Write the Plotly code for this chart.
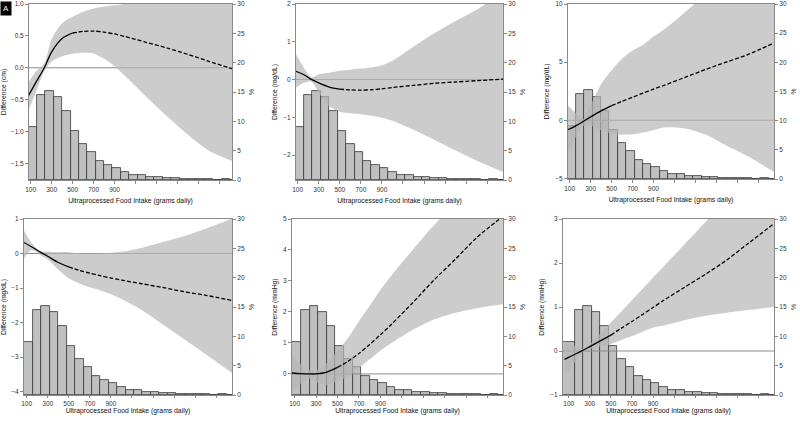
import plotly.graph_objects as go

# ---------------- data ----------------
# common grid of intake values (grams daily) where the curves were read
X_GRID = [60, 150, 230, 300, 400, 500, 600, 700, 800, 900, 1000, 1200, 1400, 1600, 1800, 2050]
SOLID_END = 500  # curve drawn solid up to here, dashed beyond

# histogram of intake distribution (%), bins in grams daily
BIN_EDGES = [0, 160, 240, 320, 400, 480, 560, 640, 720, 800, 880, 960, 1040, 1120,
             1200, 1280, 1360, 1440, 1520, 1600, 1680, 1760, 1840, 1920, 2000, 2080]
HIST_PCT = [9.1, 14.5, 15.2, 14.1, 11.7, 8.4, 6.2, 4.8, 3.3, 2.6, 2.0, 1.4, 0.8, 0.8,
            0.45, 0.45, 0.3, 0.3, 0.17, 0.17, 0.1, 0.1, 0.05, 0.1, 0.05]

# panel 1: waist circumference (cm)
P1_FIT = [-0.49, -0.23, 0.0, 0.25, 0.46, 0.545, 0.57, 0.575, 0.56, 0.53, 0.49, 0.40, 0.31, 0.21, 0.10, -0.03]
P1_LO = [-0.75, -0.38, -0.05, 0.10, 0.18, 0.22, 0.235, 0.225, 0.14, 0.025, -0.13, -0.45, -0.76, -1.05, -1.30, -1.48]
P1_HI = [-0.28, -0.06, 0.07, 0.45, 0.70, 0.80, 0.88, 0.93, 0.96, 0.98, 1.0, 1.04, 1.15, 1.25, 1.35, 1.45]

# panel 2 (mg/dL)
P2_FIT = [0.24, 0.14, 0.005, -0.09, -0.20, -0.255, -0.275, -0.28, -0.27, -0.245, -0.21, -0.155, -0.10, -0.065, -0.03, 0.01]
P2_LO = [-0.27, -0.10, -0.06, -0.34, -0.70, -0.85, -0.89, -0.92, -0.96, -1.01, -1.09, -1.33, -1.6, -1.88, -2.15, -2.45]
P2_HI = [0.8, 0.35, 0.06, 0.14, 0.18, 0.23, 0.26, 0.29, 0.32, 0.38, 0.5, 0.87, 1.23, 1.55, 1.85, 2.3]

# panel 3 (mg/dL)
P3_FIT = [-0.9, -0.52, -0.1, 0.29, 0.81, 1.26, 1.63, 1.98, 2.34, 2.68, 3.0, 3.69, 4.38, 5.02, 5.65, 6.65]
P3_LO = [-3.0, -1.6, -0.5, -0.45, -0.85, -1.15, -1.22, -1.2, -1.05, -0.85, -0.62, -0.7, -1.25, -2.2, -3.1, -4.45]
P3_HI = [1.5, 0.7, 0.1, 1.3, 3.1, 4.3, 5.3, 6.0, 6.5, 7.2, 7.8, 9.3, 10.8, 12.0, 13.0, 14.0]

# panel 4 (mg/dL)
P4_FIT = [0.34, 0.19, 0.04, -0.08, -0.26, -0.39, -0.49, -0.57, -0.64, -0.71, -0.77, -0.88, -0.99, -1.11, -1.21, -1.36]
P4_LO = [-0.2, 0.1, -0.05, -0.17, -0.46, -0.72, -0.87, -0.98, -1.07, -1.18, -1.32, -1.65, -2.07, -2.49, -2.92, -3.46]
P4_HI = [0.75, 0.3, 0.07, 0.05, 0.04, 0.04, 0.01, 0.0, 0.0, 0.02, 0.05, 0.17, 0.34, 0.51, 0.72, 1.01]

# panel 5 (mmHg)
P5_FIT = [0.035, 0.01, 0.0, 0.0, 0.06, 0.21, 0.41, 0.66, 0.95, 1.26, 1.59, 2.29, 3.03, 3.7, 4.4, 5.1]
P5_LO = [-0.75, -0.34, -0.15, -0.27, -0.36, -0.23, -0.08, 0.2, 0.47, 0.75, 0.99, 1.42, 1.76, 1.97, 2.12, 2.25]
P5_HI = [0.7, 0.34, 0.14, 0.11, 0.35, 0.75, 1.17, 1.7, 2.2, 2.71, 3.16, 4.0, 4.8, 5.5, 6.2, 7.0]

# panel 6 (mmHg)
P6_FIT = [-0.19, -0.085, 0.01, 0.10, 0.23, 0.36, 0.52, 0.67, 0.83, 0.99, 1.15, 1.45, 1.75, 2.07, 2.44, 2.9]
P6_LO = [-0.55, -0.28, -0.03, 0.04, 0.10, 0.16, 0.25, 0.34, 0.44, 0.53, 0.58, 0.70, 0.80, 0.87, 0.93, 1.0]
P6_HI = [0.22, 0.13, 0.05, 0.15, 0.40, 0.65, 0.90, 1.16, 1.41, 1.67, 1.92, 2.43, 2.94, 3.4, 3.8, 4.3]

Y_TITLES = ["Difference (cm)", "Difference (mg/dL)", "Difference (mg/dL)",
            "Difference (mg/dL)", "Difference (mmHg)", "Difference (mmHg)"]
Y_RANGES = [[-1.76, 1.0], [-2.66, 2.0], [-5.05, 10.0], [-4.1, 1.0], [-0.68, 5.0], [-1.0, 3.0]]
Y_DTICK = [0.5, 1, 5, 1, 1, 1]
X_RANGES = [[84, 2020], [84, 2050], [84, 2050], [75, 2050], [75, 2045], [46, 2047]]
X_TICKVALS = [100, 300, 500, 700, 900, 1100, 1300, 1500, 1700, 1900]
X_TICKTEXT = ["100", "300", "500", "700", "900", "", "", "", "", ""]
X_TITLE = "Ultraprocessed Food Intake (grams daily)"
PCT_TICKS = [0, 5, 10, 15, 20, 25, 30]

PANELS = [(P1_FIT, P1_LO, P1_HI), (P2_FIT, P2_LO, P2_HI), (P3_FIT, P3_LO, P3_HI),
          (P4_FIT, P4_LO, P4_HI), (P5_FIT, P5_LO, P5_HI), (P6_FIT, P6_LO, P6_HI)]

# ---------------- layout geometry (pixels of 800x422) ----------------
W, H = 800, 422
BOXES = [(29, 232, 4, 180), (296, 503, 4, 180), (568, 774, 4, 179),
         (24, 232, 219, 395), (292, 503, 219, 395), (563, 774, 219, 395)]
X_TITLE_STANDOFF = [6, 6, 6, 2, 2, 2]
X_TICKLEN = [3, 3, 3, 2, 2, 2]

AXIS_GRAY = "#8a8a8a"
FONT_FAMILY = "Liberation Sans, Arial, sans-serif"
TICK_FONT = dict(family=FONT_FAMILY, size=6.5, color="#333333")
TITLE_FONT = dict(family=FONT_FAMILY, size=6.8, color="#111111")

bar_x = [(BIN_EDGES[i] + BIN_EDGES[i + 1]) / 2 for i in range(len(HIST_PCT))]
bar_w = [BIN_EDGES[i + 1] - BIN_EDGES[i] for i in range(len(HIST_PCT))]

fig = go.Figure()
layout = {}

for k, (fit, lo, hi) in enumerate(PANELS):
    xn = "x" if k == 0 else f"x{k + 1}"
    yb = "y" if k == 0 else f"y{k + 1}"
    yo = f"y{k + 7}"
    x0, x1, ytop, ybot = BOXES[k]
    xdom = [x0 / W, x1 / W]
    ydom = [1 - ybot / H, 1 - ytop / H]

    # histogram bars on the base (%) axis
    fig.add_trace(go.Bar(x=bar_x, y=HIST_PCT, width=bar_w, xaxis=xn, yaxis=yb,
                         marker=dict(color="rgb(192,192,192)",
                                     line=dict(color="rgb(55,55,55)", width=0.8)),
                         showlegend=False, hoverinfo="skip"))
    # reference line at zero difference
    fig.add_trace(go.Scatter(x=X_RANGES[k], y=[0, 0], mode="lines", xaxis=xn, yaxis=yo,
                             line=dict(color="#8c8c8c", width=1), showlegend=False,
                             hoverinfo="skip"))
    # confidence band
    fig.add_trace(go.Scatter(x=X_GRID, y=lo, mode="lines", xaxis=xn, yaxis=yo,
                             line=dict(width=0, shape="spline", smoothing=0.8),
                             showlegend=False, hoverinfo="skip"))
    fig.add_trace(go.Scatter(x=X_GRID, y=hi, mode="lines", xaxis=xn, yaxis=yo,
                             fill="tonexty", fillcolor="rgba(182,182,182,0.70)",
                             line=dict(width=0, shape="spline", smoothing=0.8),
                             showlegend=False, hoverinfo="skip"))
    # fitted curve: solid then dashed
    xs = [x for x in X_GRID if x <= SOLID_END]
    ys = [y for x, y in zip(X_GRID, fit) if x <= SOLID_END]
    xd = [x for x in X_GRID if x >= SOLID_END]
    yd = [y for x, y in zip(X_GRID, fit) if x >= SOLID_END]
    fig.add_trace(go.Scatter(x=xs, y=ys, mode="lines", xaxis=xn, yaxis=yo,
                             line=dict(color="black", width=1.3, shape="spline", smoothing=0.8),
                             showlegend=False))
    fig.add_trace(go.Scatter(x=xd, y=yd, mode="lines", xaxis=xn, yaxis=yo,
                             line=dict(color="black", width=1.3, dash="4px,2px",
                                       shape="spline", smoothing=0.8),
                             showlegend=False))

    xkey = "xaxis" if k == 0 else f"xaxis{k + 1}"
    ybkey = "yaxis" if k == 0 else f"yaxis{k + 1}"
    yokey = f"yaxis{k + 7}"

    layout[xkey] = dict(domain=xdom, anchor=yb, range=X_RANGES[k], automargin=False,
                        tickvals=X_TICKVALS, ticktext=X_TICKTEXT,
                        ticks="outside", ticklen=X_TICKLEN[k], tickcolor=AXIS_GRAY, tickwidth=1,
                        showline=True, linecolor=AXIS_GRAY, linewidth=1, mirror=True,
                        showgrid=False, zeroline=False, tickfont=TICK_FONT,
                        ticklabeloverflow="allow",
                        title=dict(text=X_TITLE, font=TITLE_FONT, standoff=X_TITLE_STANDOFF[k]))
    layout[ybkey] = dict(domain=ydom, anchor=xn, side="right", range=[0, 30],
                         automargin=False, ticklabeloverflow="allow",
                         tickvals=PCT_TICKS, ticks="outside", ticklen=3,
                         tickcolor=AXIS_GRAY, showline=True, linecolor=AXIS_GRAY,
                         showgrid=False, zeroline=False, tickfont=TICK_FONT,
                         title=dict(text="%", font=TITLE_FONT, standoff=5))
    layout[yokey] = dict(overlaying=yb, anchor=xn, side="left", range=Y_RANGES[k],
                         automargin=False, ticklabeloverflow="allow",
                         dtick=Y_DTICK[k], tick0=0,
                         tickformat=".1f" if k == 0 else "d",
                         ticks="outside", ticklen=3, tickcolor=AXIS_GRAY,
                         showline=True, linecolor=AXIS_GRAY, showgrid=False,
                         zeroline=False, tickfont=TICK_FONT,
                         title=dict(text=Y_TITLES[k], font=TITLE_FONT, standoff=4))

fig.update_layout(**layout)
fig.update_layout(
    width=W, height=H, margin=dict(l=0, r=0, t=0, b=0, autoexpand=False),
    paper_bgcolor="white", plot_bgcolor="white", bargap=0,
    font=dict(family=FONT_FAMILY),
    annotations=[dict(text="A", x=0, y=0.997, xref="paper", yref="paper",
                      xanchor="left", yanchor="top", showarrow=False,
                      font=dict(color="white", size=8, family=FONT_FAMILY),
                      bgcolor="black", borderpad=2)],
)

# the page's default 8px body margin would push the fixed-size figure off the window
fig.write_html("out.html", config={"displayModeBar": False},
               post_script="document.body.style.margin='0';")
